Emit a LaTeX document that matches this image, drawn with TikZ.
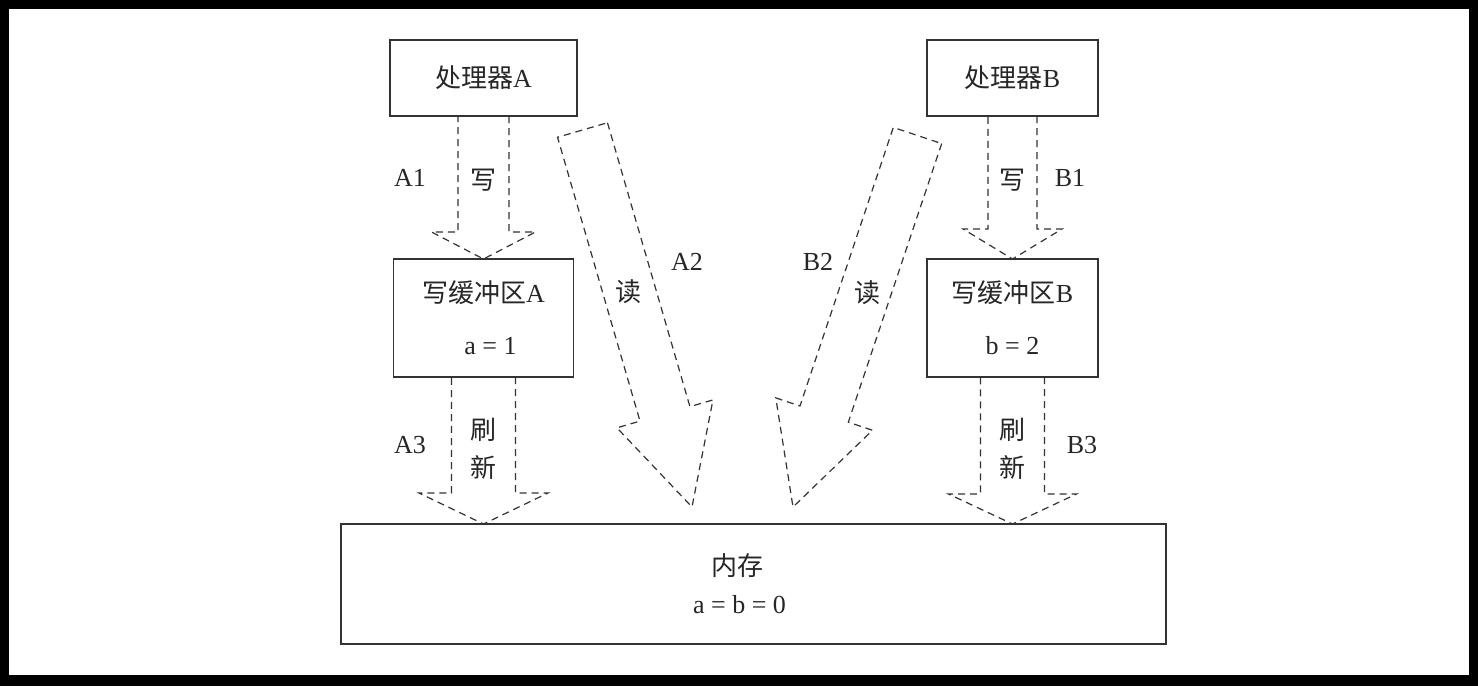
\documentclass[tikz,border=0pt]{standalone}
\usepackage{fontspec}
\setmainfont{Liberation Serif}
\newfontfamily\cjk{Noto Sans CJK SC}
\usetikzlibrary{positioning,calc}

\newcommand\zh[1]{{\cjk #1}}
% fleche creuse : [fin], depart, arrivee, demi-corps, demi-tete, longueur tete
\newcommand\hollowarrow[6][]{%
  \path coordinate (ha-base) at ($(#3)!#6!(#2)$);
  \path[hollow] ($(#2)!#4!90:(#3)$) -- ($(ha-base)!#4!90:(#3)$)
    -- ($(ha-base)!#5!90:(#3)$) -- (#3) -- ($(ha-base)!#5!-90:(#3)$)
    -- ($(ha-base)!#4!-90:(#3)$) -- ($(#2)!#4!-90:(#3)$) #1;}

\begin{document}
\begin{tikzpicture}[x=1pt, y=-1pt,
      every node/.style={font=\fontsize{26}{30}\selectfont, text=black!85},
      box/.style={draw=black!80, line width=1.2pt, inner sep=0pt, outer sep=0pt, align=center},
      hollow/.style={draw=black!80, line width=1.2pt, dash pattern=on 7pt off 5pt},
      txt/.style={inner sep=0pt, align=center}
      ]

      % Cadre noir autour de l'image.
      \path[fill=black, use as bounding box] (0,0) rectangle (1478,686);
      \path[fill=white] (9,9) rectangle (1469,675);

      \path node[box, minimum width=187pt, minimum height=76pt] (procA) at (483.5,78) {\zh{处理器}A};
      \path node[box, minimum width=171pt, minimum height=76pt] (procB) at (1012.5,78) {\zh{处理器}B};

      \path node[box, minimum width=180pt, minimum height=118pt, below=143pt of procA] (bufA)
        {\zh{写缓冲区}A\\[22pt]\hspace*{14pt}a = 1};
      \path node[box, minimum width=171pt, minimum height=118pt, below=143pt of procB] (bufB)
        {\zh{写缓冲区}B\\[22pt]b = 2};

      \path node[box, minimum width=825pt, minimum height=120pt] (mem) at (753.5,584)
        {\hspace*{-32pt}\zh{内存}\\[8pt]\hspace*{-28pt}a = b = 0};

      \hollowarrow{procA.south}{bufA.north}{25.5pt}{52pt}{27pt}
      \hollowarrow{procB.south}{bufB.north}{24.5pt}{49.5pt}{30pt}

      \path coordinate (a3-tip) at (bufA.south |- mem.north);
      \path coordinate (b3-tip) at (bufB.south |- mem.north);
      \hollowarrow{bufA.south}{a3-tip}{32pt}{64.5pt}{31pt}
      \hollowarrow{bufB.south}{b3-tip}{32pt}{64pt}{30pt}

      \path coordinate (a2-start) at (582.5,130) coordinate (a2-tip) at (692,507);
      \path coordinate (b2-start) at (917.5,135.5) coordinate (b2-tip) at (793,507);
      \hollowarrow[-- cycle]{a2-start}{a2-tip}{26pt}{50pt}{97pt}
      \hollowarrow[-- cycle]{b2-start}{b2-tip}{25.5pt}{51pt}{98pt}

      \path node[txt] (a1) at (410,178) {A1};
      \path node[txt] (a1-write) at (483,180) {\zh{写}};
      \path node[txt] (a3) at (410,445) {A3};
      \path node[txt] (a3-flush) at (483,449) {\zh{刷}\\[8pt]\zh{新}};
      \path node[txt] (a2) at (687,262) {A2};
      \path node[txt] (a2-read) at (628,292) {\zh{读}};

      \path node[txt] (b1) at (1070,178) {B1};
      \path node[txt] (b1-write) at (1012,180) {\zh{写}};
      \path node[txt] (b3) at (1082,445) {B3};
      \path node[txt] (b3-flush) at (1012,449) {\zh{刷}\\[8pt]\zh{新}};
      \path node[txt] (b2) at (818,262) {B2};
      \path node[txt] (b2-read) at (867,293) {\zh{读}};
    \end{tikzpicture}
\end{document}
